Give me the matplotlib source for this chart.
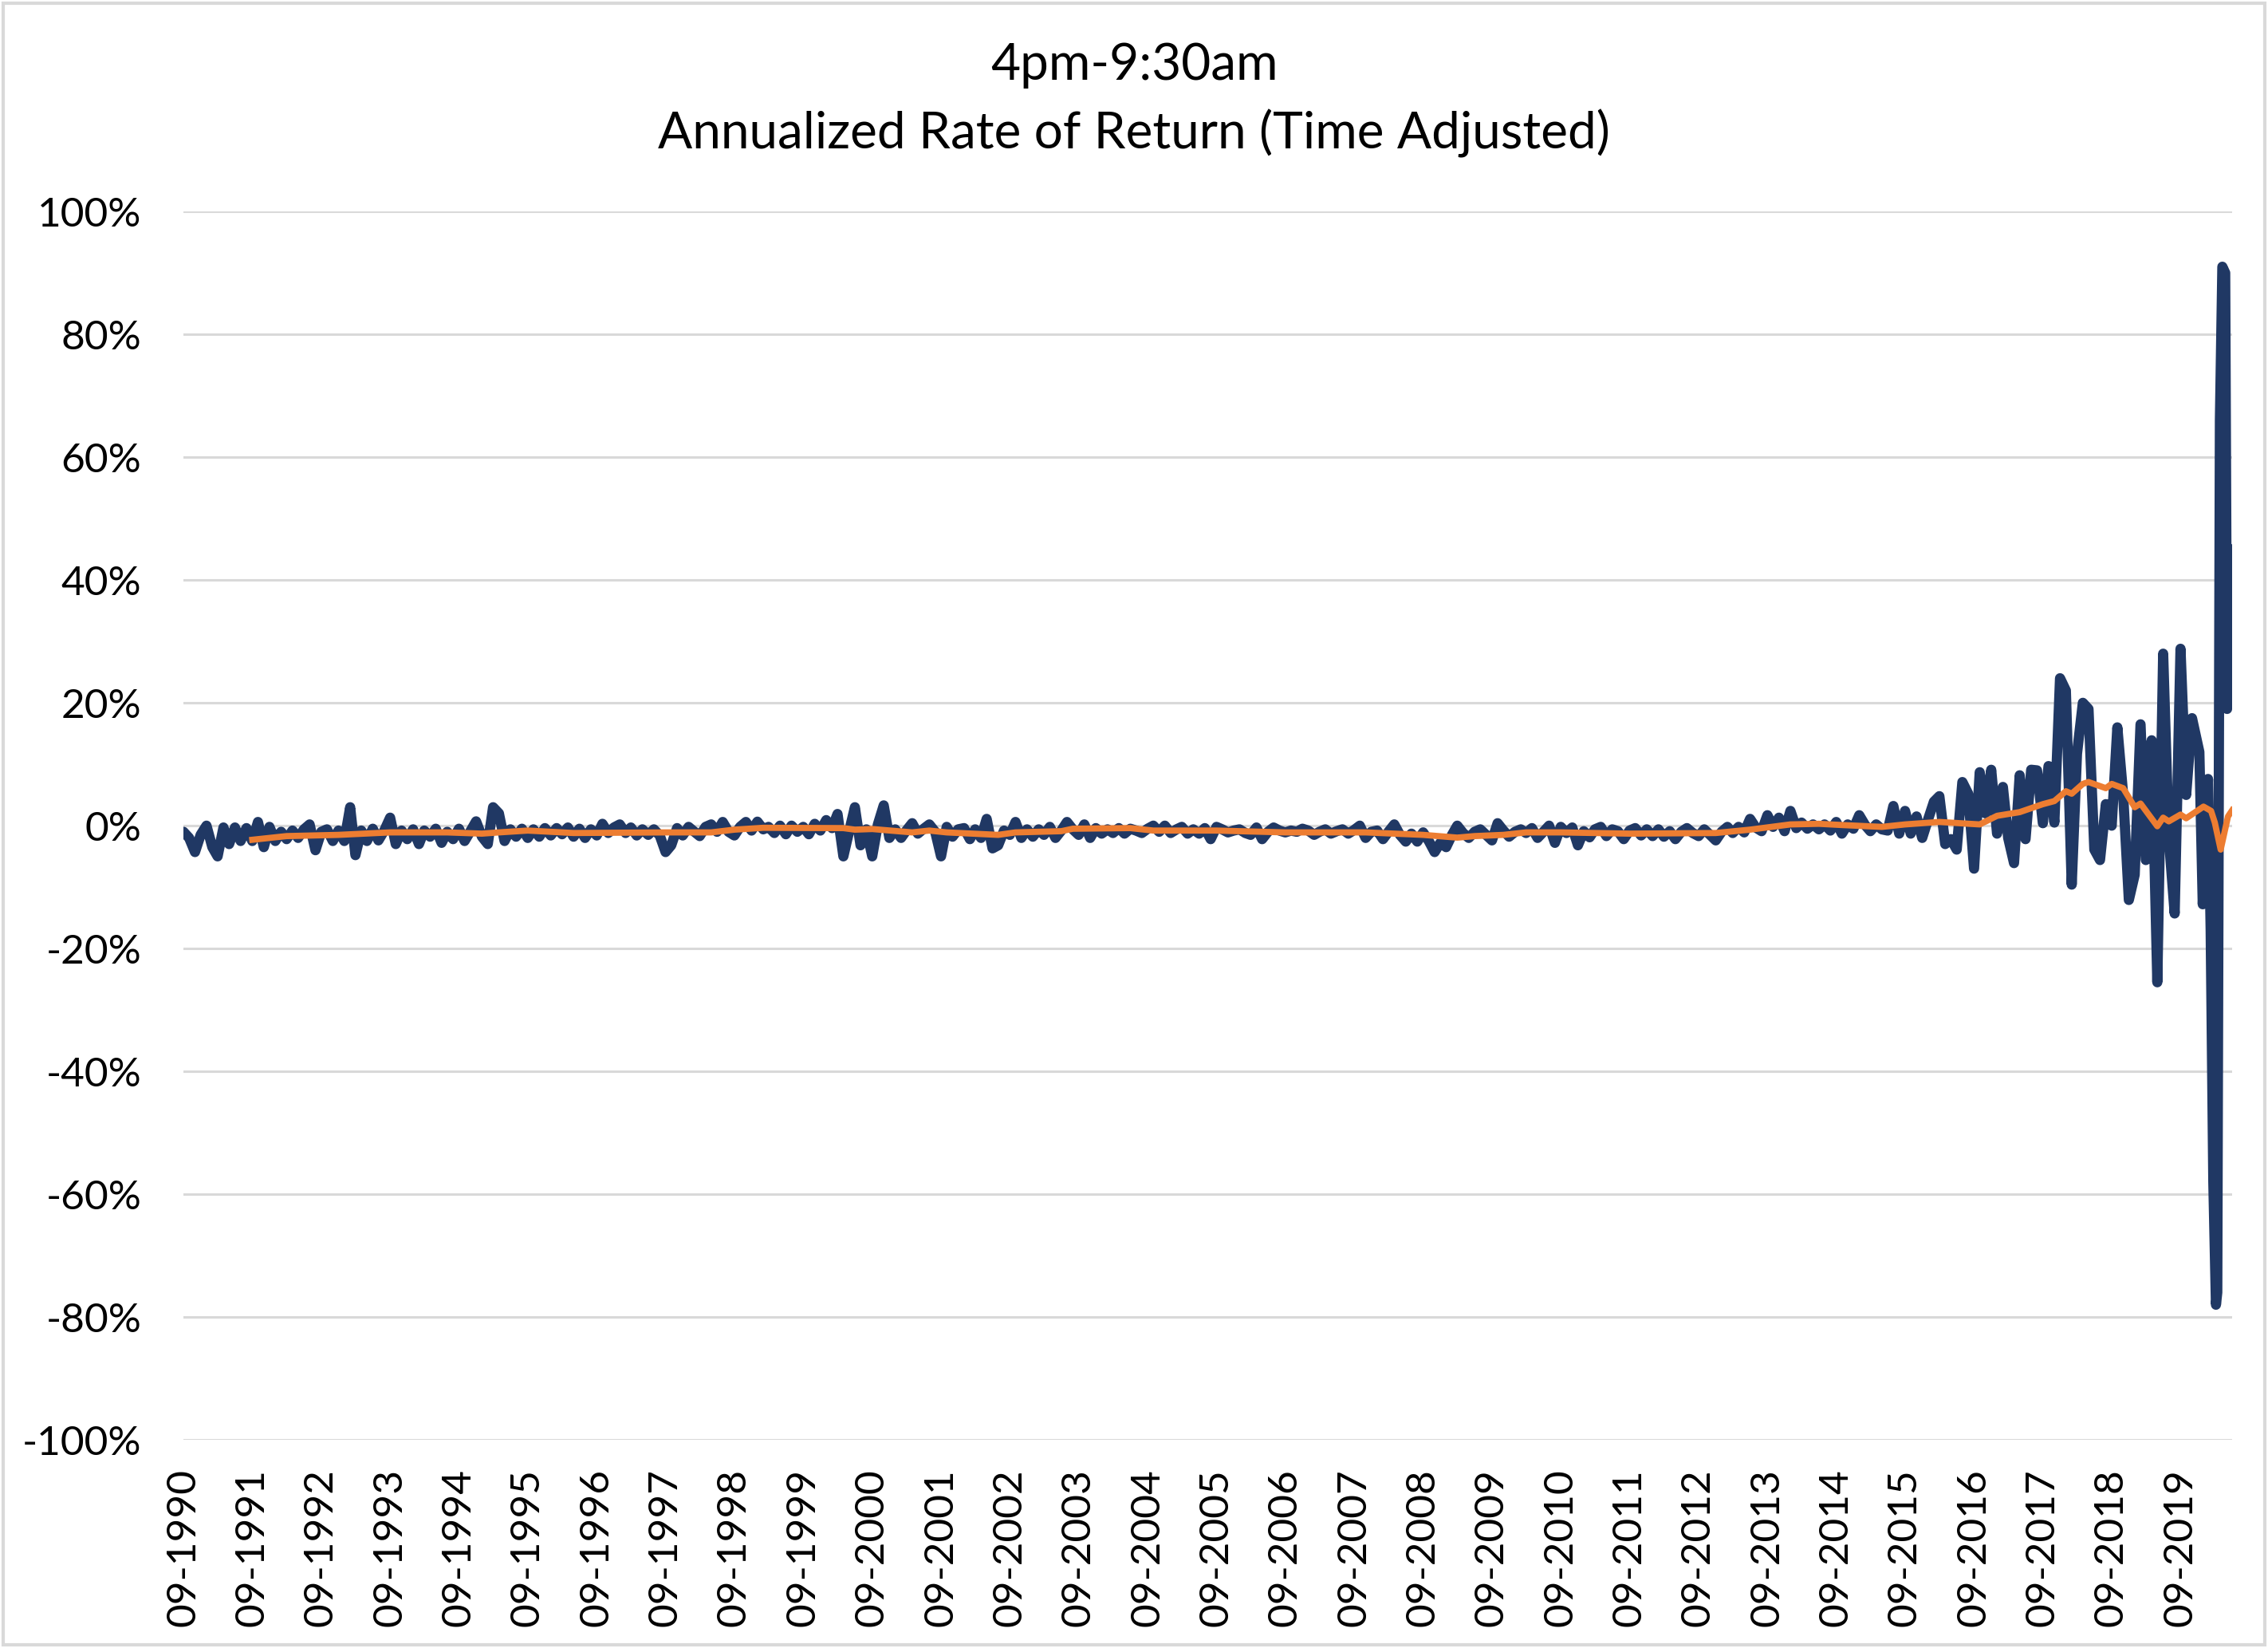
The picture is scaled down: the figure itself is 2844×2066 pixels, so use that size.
import numpy as np
import pandas as pd
import matplotlib
matplotlib.use("Agg")
import matplotlib.pyplot as plt

# monthly overnight return, annualized (%), Sep 1990 - Aug 2000
nav_1990s = [
    -1.0, -2.0, -4.3, -1.5, 0.0, -3.5, -5.0, -0.3, -3.0, -0.3, -2.5, -0.4,
    -2.5, 0.6, -3.5, -0.2, -2.5, -1.0, -2.2, -0.8, -2.0, -0.6, 0.2, -4.0,
    -1.0, -0.6, -2.5, -0.8, -2.5, 3.0, -4.8, -0.8, -2.5, -0.5, -2.4, -0.8,
    1.3, -3.0, -0.8, -2.2, -0.6, -3.0, -0.8, -1.8, -0.5, -2.8, -1.0, -2.2,
    -0.5, -2.5, -0.9, 0.7, -1.8, -3.0, 3.0, 2.0, -2.5, -0.6, -1.8, -0.5,
    -2.0, -0.6, -1.8, -0.4, -1.6, -0.4, -1.4, -0.3, -1.8, -0.5, -2.0, -0.6,
    -1.6, 0.3, -1.2, -0.3, 0.2, -1.2, -0.3, -1.6, -0.6, -1.5, -0.6, -1.6,
    -4.3, -3.2, -0.4, -1.6, -0.2, -1.0, -1.7, -0.2, 0.2, -1.0, 0.6, -1.0,
    -1.6, -0.2, 0.6, -0.8, 0.65, -0.6, -0.2, -1.2, 0.0, -1.4, 0.0, -1.0,
    -0.2, -1.4, 0.3, -0.8, 0.9, -0.4, 1.9, -5.0, -1.0, 3.0, -3.2, -0.6,
]

# Sep 2000 - Aug 2010
nav_2000s = [
    -5.0, 0.2, 3.3, -2.0, -0.6, -2.0, -0.8, 0.4, -1.3, -0.5, 0.2, -1.0,
    -5.0, -0.2, -1.8, -0.6, -0.4, -2.2, -0.6, -2.0, 1.1, -3.7, -3.2, -0.8,
    -1.5, 0.6, -2.0, -0.6, -1.8, -0.6, -1.5, -0.2, -2.0, -0.8, 0.6, -0.6,
    -1.5, 0.2, -2.0, -0.4, -1.3, -0.6, -1.2, -0.4, -1.3, -0.5, -0.8, -1.2,
    -0.5, 0.0, -1.0, 0.0, -1.2, -0.6, -0.2, -1.3, -0.6, -1.3, -0.4, -2.2,
    -0.2, -0.6, -1.1, -0.8, -0.6, -1.2, -1.5, -0.3, -2.2, -1.0, -0.3, -0.8,
    -1.1, -0.8, -1.0, -0.5, -0.8, -1.5, -1.0, -0.6, -1.3, -0.9, -0.6, -1.3,
    -0.7, 0.0, -2.0, -1.0, -0.8, -2.2, -1.0, 0.2, -1.5, -2.6, -1.3, -2.6,
    -1.1, -2.5, -4.3, -2.8, -3.5, -1.5, 0.0, -1.2, -2.0, -1.0, -0.6, -1.5,
    -2.4, 0.4, -0.8, -1.8, -1.0, -0.6, -1.2, -0.4, -2.0, -1.0, 0.0, -2.8,
]

# Sep 2010 - Nov 2019
nav_2010s = [
    -0.2, -1.2, -0.3, -3.2, -0.9, -1.9, -0.6, -0.2, -1.7, -0.6, -0.9, -2.2,
    -0.8, -0.4, -1.6, -0.6, -1.7, -0.6, -1.8, -0.9, -2.2, -1.0, -0.4, -1.2,
    -1.7, -0.6, -1.5, -2.4, -1.0, -0.2, -1.2, -0.2, -1.1, 1.1, -0.3, -0.9,
    1.7, -0.2, 1.3, -0.9, 2.4, -0.4, 0.5, -0.5, 0.2, -0.6, 0.2, -0.8,
    0.6, -1.3, 0.2, -0.5, 1.7, 0.1, -0.9, 0.2, -0.6, -0.8, 3.2, -1.3,
    2.4, -1.3, 1.5, -2.0, 1.0, 3.9, 4.8, -3.0, -2.2, -3.9, 7.1, 5.2,
    -7.0, 8.7, 2.0, 9.1, -1.3, 6.3, -2.0, -6.1, 8.2, -2.2, 9.1, 9.0,
    0.4, 9.7, 0.5, 24.0, 22.0, -9.6, 11.7, 20.0, 19.0, -3.9, -5.6, 3.5,
    0.0, 16.0, 5.0, -12.1, -8.0, 16.5, -5.6, 13.9, -25.5, 28.0, -2.0, -14.3,
    28.8, 5.0, 17.5,
]

# weekly-ish tail, Dec 2019 - Jun 2020
tail_dates = ["2019-12-10", "2019-12-28", "2020-01-25", "2020-02-08", "2020-02-22",
              "2020-03-07", "2020-03-14", "2020-03-28", "2020-04-10", "2020-04-25",
              "2020-05-05", "2020-05-12", "2020-05-19", "2020-05-26", "2020-06-01"]
tail_vals = [12.0, -12.8, 7.6, -17.0, -58.0,
             -78.0, -76.0, 66.0, 91.0, 90.0,
             19.0, 45.0, 22.0, 45.0, 25.0]

# moving average (orange)
ma_dates = ["1991-09-01", "1992-03-01", "1992-12-01", "1993-09-01", "1994-07-01", "1995-01-01",
            "1995-04-01", "1995-09-01", "1996-05-01", "1997-09-01", "1998-05-01", "1998-09-01",
            "1999-02-01", "2000-04-01", "2000-06-01", "2000-09-01", "2001-04-01", "2001-07-01",
            "2001-10-01", "2002-07-01", "2002-10-01", "2003-06-01", "2003-08-01", "2004-01-01",
            "2004-06-01", "2004-10-01", "2005-09-01", "2006-09-01", "2007-11-01", "2008-09-01",
            "2009-03-01", "2009-06-01", "2009-11-01", "2010-03-01", "2010-09-01", "2011-09-01",
            "2012-12-01", "2013-06-01", "2014-01-01", "2014-06-01", "2014-10-01", "2015-05-01",
            "2015-09-01", "2016-03-01", "2016-10-01", "2017-01-01", "2017-05-01", "2017-09-01",
            "2017-11-01", "2018-01-01", "2018-02-01", "2018-04-01", "2018-05-01", "2018-08-01",
            "2018-09-01", "2018-11-01", "2019-01-01", "2019-02-01", "2019-05-01", "2019-06-01",
            "2019-07-01", "2019-09-01", "2019-10-01", "2020-01-01", "2020-02-10", "2020-03-01",
            "2020-04-01", "2020-05-10", "2020-06-01"]
ma_vals = [-2.3, -1.7, -1.5, -1.1, -1.1, -1.3,
           -1.1, -0.8, -1.2, -1.1, -1.1, -0.65,
           -0.35, -0.4, -0.65, -0.55, -1.1, -0.8,
           -1.1, -1.5, -1.1, -0.9, -0.5, -0.45,
           -0.4, -0.8, -0.8, -1.1, -1.1, -1.5,
           -1.95, -1.7, -1.5, -1.1, -1.1, -1.3,
           -1.2, -0.65, 0.2, 0.3, 0.1, -0.2,
           0.2, 0.6, 0.2, 1.6, 2.2, 3.5,
           4.0, 5.6, 5.2, 6.8, 7.1, 6.1,
           6.8, 6.1, 3.0, 3.6, -0.1, 1.3,
           0.7, 1.8, 1.2, 3.1, 2.4, 0.5,
           -3.9, 1.5, 2.5]

ytick_vals = [-100, -80, -60, -40, -20, 0, 20, 40, 60, 80, 100]

plt.rcParams['font.family'] = ['Lato', 'DejaVu Sans']

fig = plt.figure(figsize=(14.22, 10.33), dpi=200)
ax = fig.add_axes([0.0809, 0.1263, 0.9033, 0.7454])

navy = nav_1990s + nav_2000s + nav_2010s
x = list(pd.date_range("1990-09-01", periods=len(navy), freq="MS")) + list(pd.to_datetime(tail_dates))
y = np.array(navy + tail_vals) / 100

ax.plot(x, y, color='#203864', lw=4.6, solid_joinstyle='round', solid_capstyle='round', zorder=3)
ax.plot(pd.to_datetime(ma_dates), np.array(ma_vals) / 100, color='#ED7D31', lw=2.8, zorder=4)

ax.set_ylim(-1, 1)
ax.set_yticks(np.array(ytick_vals) / 100)
ax.set_yticklabels([f"{v}%" for v in ytick_vals])
ax.set_xlim(pd.Timestamp("1990-09-01"), pd.Timestamp("2020-06-01"))
xt = pd.date_range("1990-09-01", "2019-09-01", freq="12MS")
ax.set_xticks(xt)
ax.set_xticklabels([d.strftime("%m-%Y") for d in xt], rotation=90, va='top')

ax.tick_params(axis='y', length=0, labelsize=18.5, pad=19)
ax.tick_params(axis='x', length=0, labelsize=18.5, pad=13)
for s in ax.spines.values():
    s.set_visible(False)
ax.grid(axis='y', color='#d9d9d9', lw=1.1)
ax.set_axisbelow(True)

fig.text(0.5, 1 - 82 / 2066, "4pm-9:30am", ha='center', va='center', fontsize=23)
fig.text(0.5, 1 - 167 / 2066, "Annualized Rate of Return (Time Adjusted)", ha='center', va='center', fontsize=23)

fig.patches.append(plt.Rectangle((0.0015, 0.002), 0.997, 0.996, transform=fig.transFigure,
                                 fill=False, ec='#d9d9d9', lw=1.5))

fig.savefig("out.png", dpi=200)
